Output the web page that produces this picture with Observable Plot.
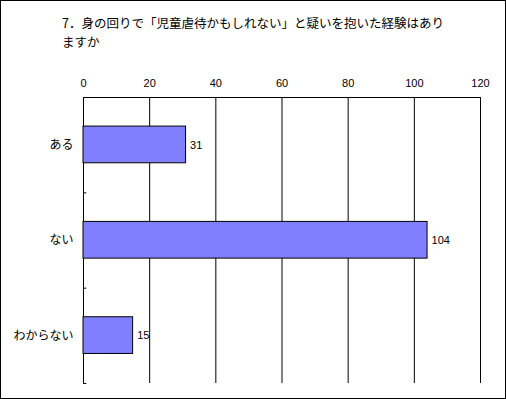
<!DOCTYPE html>
<html><head><meta charset="utf-8">
<script src="https://cdn.jsdelivr.net/npm/d3@7"></script>
<script src="https://cdn.jsdelivr.net/npm/@observablehq/plot@0.6"></script>
<style>
body{margin:0;background:#fff}
#wrap{position:relative;width:506px;height:399px;overflow:hidden;background:#fff}
#title{position:absolute;left:62px;top:13px;font:12.5px/19px "Noto Sans CJK JP",sans-serif;color:#000;white-space:nowrap}
#border{position:absolute;left:0;top:0;width:506px;height:399px;box-sizing:border-box;border:1px solid #000;pointer-events:none}
#chart{position:absolute;left:0;top:0}
</style></head><body>
<div id="wrap"><div id="chart"></div><div id="title"></div><div id="border"></div></div>
<script>
const titleLines = ["7．身の回りで「児童虐待かもしれない」と疑いを抱いた経験はあり", "ますか"];
const categories = ["ある", "ない", "わからない"];
const values = [31, 104, 15];
const xTicks = [0, 20, 40, 60, 80, 100, 120];

document.getElementById("title").innerHTML = titleLines.join("<br>");
const data = categories.map((c, i) => ({category: c, value: values[i], i}));

const plot = Plot.plot({
  width: 506, height: 399,
  marginTop: 97, marginLeft: 83, marginRight: 26, marginBottom: 16,
  style: {fontFamily: '"Liberation Sans","Noto Sans CJK JP",sans-serif', fontSize: "11px", background: "white", color: "#000"},
  x: {domain: [0, 120], axis: null},
  y: {domain: [0, 3], reverse: true, axis: null},
  marks: [
    Plot.ruleX(xTicks, {stroke: "#000"}),
    Plot.ruleY([0], {stroke: "#000"}),
    Plot.ruleY([1, 2, 3], {x1: 0, x2: 1, stroke: "#000"}),
    Plot.text(xTicks, {x: d => d, frameAnchor: "top", dy: -18, text: d => String(d), fontSize: 11}),
    Plot.rectX(data, {x1: 0, x2: "value", y1: d => d.i + 0.305, y2: d => d.i + 0.69, fill: "#8080ff", stroke: "#000", strokeWidth: 1}),
    Plot.text(data, {x: 0, y: d => d.i + 0.5, text: "category", textAnchor: "end", dx: -10, fontSize: 12, fontFamily: '"Noto Sans CJK JP",sans-serif'}),
    Plot.text(data, {x: "value", y: d => d.i + 0.5, text: d => String(d.value), textAnchor: "start", dx: 4, fontSize: 11})
  ]
});
document.getElementById("chart").appendChild(plot);
</script>
</body></html>
